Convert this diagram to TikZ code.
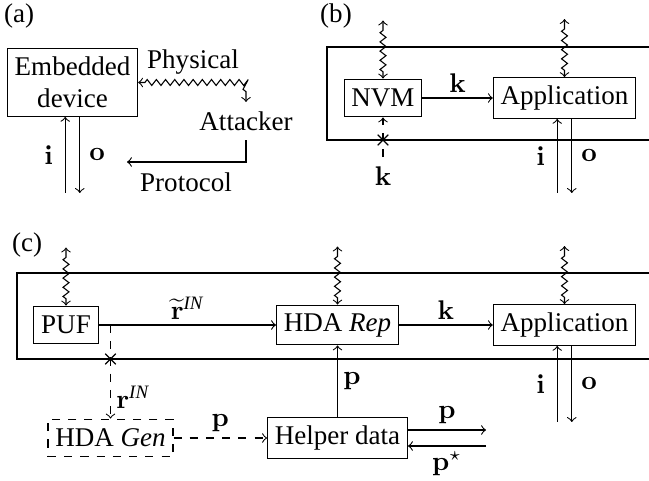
\documentclass[tikz,border=0pt]{standalone}
\usepackage{amsmath}
\usepackage[no-math]{fontspec}
\setmainfont{Liberation Serif}
\usetikzlibrary{decorations.pathmorphing,shapes.misc}

\tikzset{
    blk/.style={draw, inner xsep=2.7pt, inner ysep=3pt, minimum height=14pt},
    wavy/.style={<->, decorate, decoration={zigzag, amplitude=1.1pt, segment length=3.4pt, pre length=2.5pt, post length=2.5pt}},
    cut/.style={cross out, draw, minimum size=3.5pt, inner sep=0pt},
    lbl/.style={inner sep=2pt},
}

\begin{document}
\begin{tikzpicture}[x=0.37pt, y=-0.37pt, >=to]
    \useasboundingbox (0,0) rectangle (649,481);

    % (a) device and attacker
    \node (tagA) at (19,16) {(a)};
    \node[blk, align=center] (dev) at (72.5,82.5) {Embedded\\device};
    \node (att) at (246,121) {Attacker};
    \node (phys) at (193,62) {Physical};
    \node (prot) at (186,182) {Protocol};
    \coordinate (protEnd) at (127,162);
    \draw[wavy] (dev.east) -| (att.north);
    \draw[->] (att.south) |- (protEnd);

    % (b) key stored in NVM
    \node (tagB) at (336,16) {(b)};
    \draw (649,47) -| (327,140) -- (649,140);
    \node[blk] (nvm) at (383,98) {NVM};
    \node[blk] (appb) at (564.5,98) {Application};
    \node (kb) at (383,176) {$\mathbf{k}$};
    \draw[->] (nvm) -- (appb) node[midway, above, lbl] {$\mathbf{k}$};
    \draw[->, dashed] (kb) -- (nvm);
    \node[cut] (cutb) at (nvm.south |- 0,140) {};

    % (c) key derived from the PUF
    \node (tagC) at (27,245) {(c)};
    \draw (649,273) -| (17,359) -- (649,359);
    \node[blk] (puf) at (66,325) {PUF};
    \node[blk] (rep) at (337.5,325) {HDA \textit{Rep}};
    \node[blk] (appc) at (564.5,325) {Application};
    \node[blk, dashed] (gen) at (110.5,438) {HDA \textit{Gen}};
    \node[blk] (hlp) at (337.5,438) {Helper data};

    \draw[->] (puf) -- (rep) node[midway, above, lbl] {$\widetilde{\mathbf{r}}^{\textit{IN}}$};
    \draw[->] (rep) -- (appc) node[midway, above, lbl] {$\mathbf{k}$};
    \draw[->, dashed] (gen.north |- puf.east) -- (gen.north) node[pos=0.77, right, lbl] {$\mathbf{r}^{\textit{IN}}$};
    \node[cut] (cutc) at (gen.north |- 0,359) {};
    \draw[->, dashed] (gen) -- (hlp) node[midway, above, lbl] {$\mathbf{p}$};
    \draw[->] (hlp) -- (rep) node[midway, right, lbl] {$\mathbf{p}$};

    % helper data going out and coming back
    \coordinate (pOut) at (486,430);
    \coordinate (pIn) at (486,446);
    \draw[->] (hlp.east |- pOut) -- (pOut) node[midway, above, lbl] {$\mathbf{p}$};
    \draw[->] (pIn) -- (hlp.east |- pIn) node[midway, below, lbl] {$\mathbf{p}^{\star}$};

    % physical access to every block
    \foreach \nd in {nvm, appb, puf, rep, appc}
        \draw[wavy] (\nd.north) -- ++(0,-58);

    % inputs and outputs
    \foreach \nd/\ybot in {dev/193, appb/193, appc/422} {
        \coordinate (ioi) at ([xshift=-2.7pt]\nd.south);
        \coordinate (ioo) at ([xshift=2.7pt]\nd.south);
        \draw[->] (ioi |- 0,\ybot) -- (ioi) node[midway, left=1pt] {$\mathbf{i}$};
        \draw[->] (ioo) -- (ioo |- 0,\ybot) node[midway, right=0pt] {$\mathbf{o}$};
    }
\end{tikzpicture}
\end{document}
